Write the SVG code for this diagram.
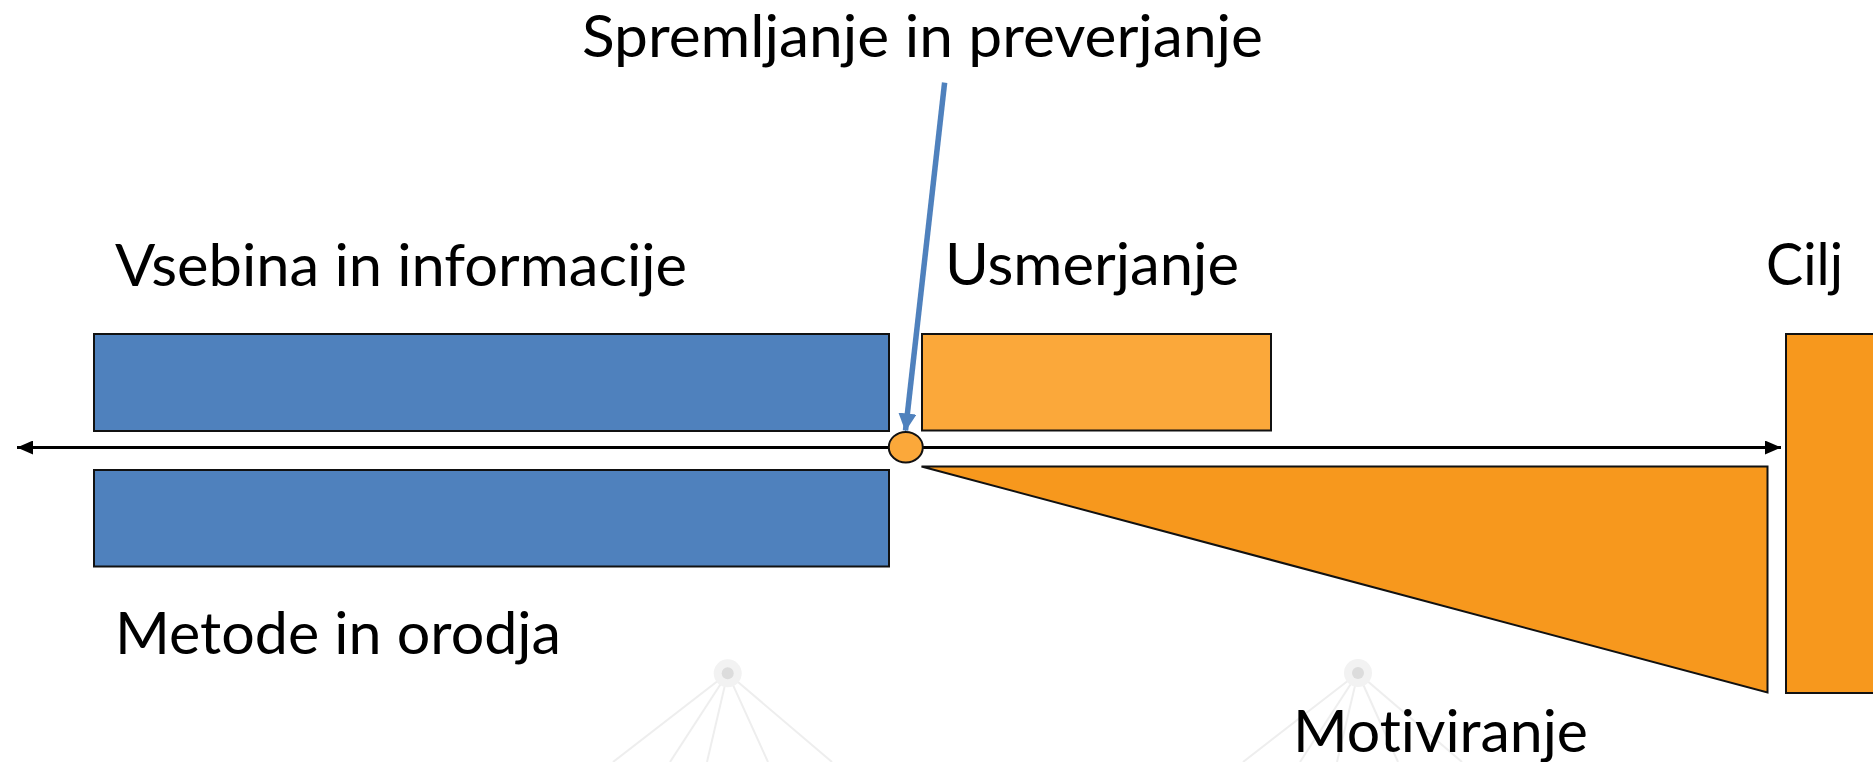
<svg xmlns="http://www.w3.org/2000/svg" width="1873" height="762" viewBox="0 0 1873 762">
<defs>
<style>
.lbl{font-family:Lato,"Open Sans","Liberation Sans",sans-serif;font-size:58px;fill:#000;font-variant-ligatures:none;font-feature-settings:"liga" 0,"clig" 0}
.blue{fill:#4F81BD;stroke:#111;stroke-width:2}
.orL{fill:#FBA83A;stroke:#111;stroke-width:2}
.orD{fill:#F7981D;stroke:#111;stroke-width:2}
.faint{stroke:#eeeeee;stroke-width:2;fill:none}
</style>
<marker id="ahB" viewBox="0 0 16 14" refX="16" refY="7" markerWidth="16" markerHeight="14" markerUnits="userSpaceOnUse" orient="auto"><path d="M0,0 L16,7 L0,14 Z" fill="#000"/></marker>
<marker id="ahBlue" viewBox="0 0 18 18" refX="17" refY="9" markerWidth="18" markerHeight="18" markerUnits="userSpaceOnUse" orient="auto"><path d="M0,0 L18,9 L0,18 Z" fill="#4F81BD"/></marker>
</defs>
<rect width="1873" height="762" fill="#fff"/>
<g id="watermark">
<g class="faint">
<line x1="727.7" y1="673.3" x2="613" y2="762"/><line x1="727.7" y1="673.3" x2="670" y2="762"/><line x1="727.7" y1="673.3" x2="707" y2="762"/><line x1="727.7" y1="673.3" x2="768" y2="762"/><line x1="727.7" y1="673.3" x2="832" y2="762"/>
<line x1="1358" y1="673" x2="1243" y2="762"/><line x1="1358" y1="673" x2="1300" y2="762"/><line x1="1358" y1="673" x2="1337" y2="762"/><line x1="1358" y1="673" x2="1398" y2="762"/><line x1="1358" y1="673" x2="1462" y2="762"/>
</g>
<circle cx="727.7" cy="673.3" r="14" fill="#f2f2f2"/><circle cx="727.7" cy="673.3" r="6" fill="#dcdcdc"/>
<circle cx="1358" cy="673" r="14" fill="#f2f2f2"/><circle cx="1358" cy="673" r="6" fill="#dcdcdc"/>
</g>
<g id="vsebina"><rect class="blue" x="94" y="334" width="795" height="97"/><text class="lbl" x="115" y="286" textLength="572" lengthAdjust="spacingAndGlyphs">Vsebina in informacije</text></g>
<g id="metode"><rect class="blue" x="94" y="470" width="795" height="96.5"/><text class="lbl" x="115" y="654" textLength="446" lengthAdjust="spacingAndGlyphs">Metode in orodja</text></g>
<g id="usmerjanje"><rect class="orL" x="922" y="334" width="349" height="96.5"/><text class="lbl" x="945" y="285" textLength="294" lengthAdjust="spacingAndGlyphs">Usmerjanje</text></g>
<g id="motiviranje"><polygon class="orD" points="921.5,466.5 1767.5,466.5 1767.5,692.5"/><text class="lbl" x="1293" y="752" textLength="295" lengthAdjust="spacingAndGlyphs">Motiviranje</text></g>
<g id="cilj"><rect class="orD" x="1786" y="334" width="120" height="359"/><text class="lbl" x="1766" y="285" textLength="77" lengthAdjust="spacingAndGlyphs">Cilj</text></g>
<g id="connectors">
<line x1="890" y1="447.5" x2="17" y2="447.5" stroke="#000" stroke-width="3" marker-end="url(#ahB)"/>
<line x1="922" y1="447.5" x2="1781" y2="447.5" stroke="#000" stroke-width="3" marker-end="url(#ahB)"/>
<line x1="944.6" y1="82.6" x2="905.5" y2="430.5" stroke="#4F81BD" stroke-width="5.5" marker-end="url(#ahBlue)"/>
</g>
<g id="spremljanje"><ellipse cx="905.8" cy="447.2" rx="17" ry="15.3" fill="#FBA83A" stroke="#111" stroke-width="2"/><text class="lbl" x="582" y="57" textLength="681" lengthAdjust="spacingAndGlyphs">Spremljanje in preverjanje</text></g>
</svg>
